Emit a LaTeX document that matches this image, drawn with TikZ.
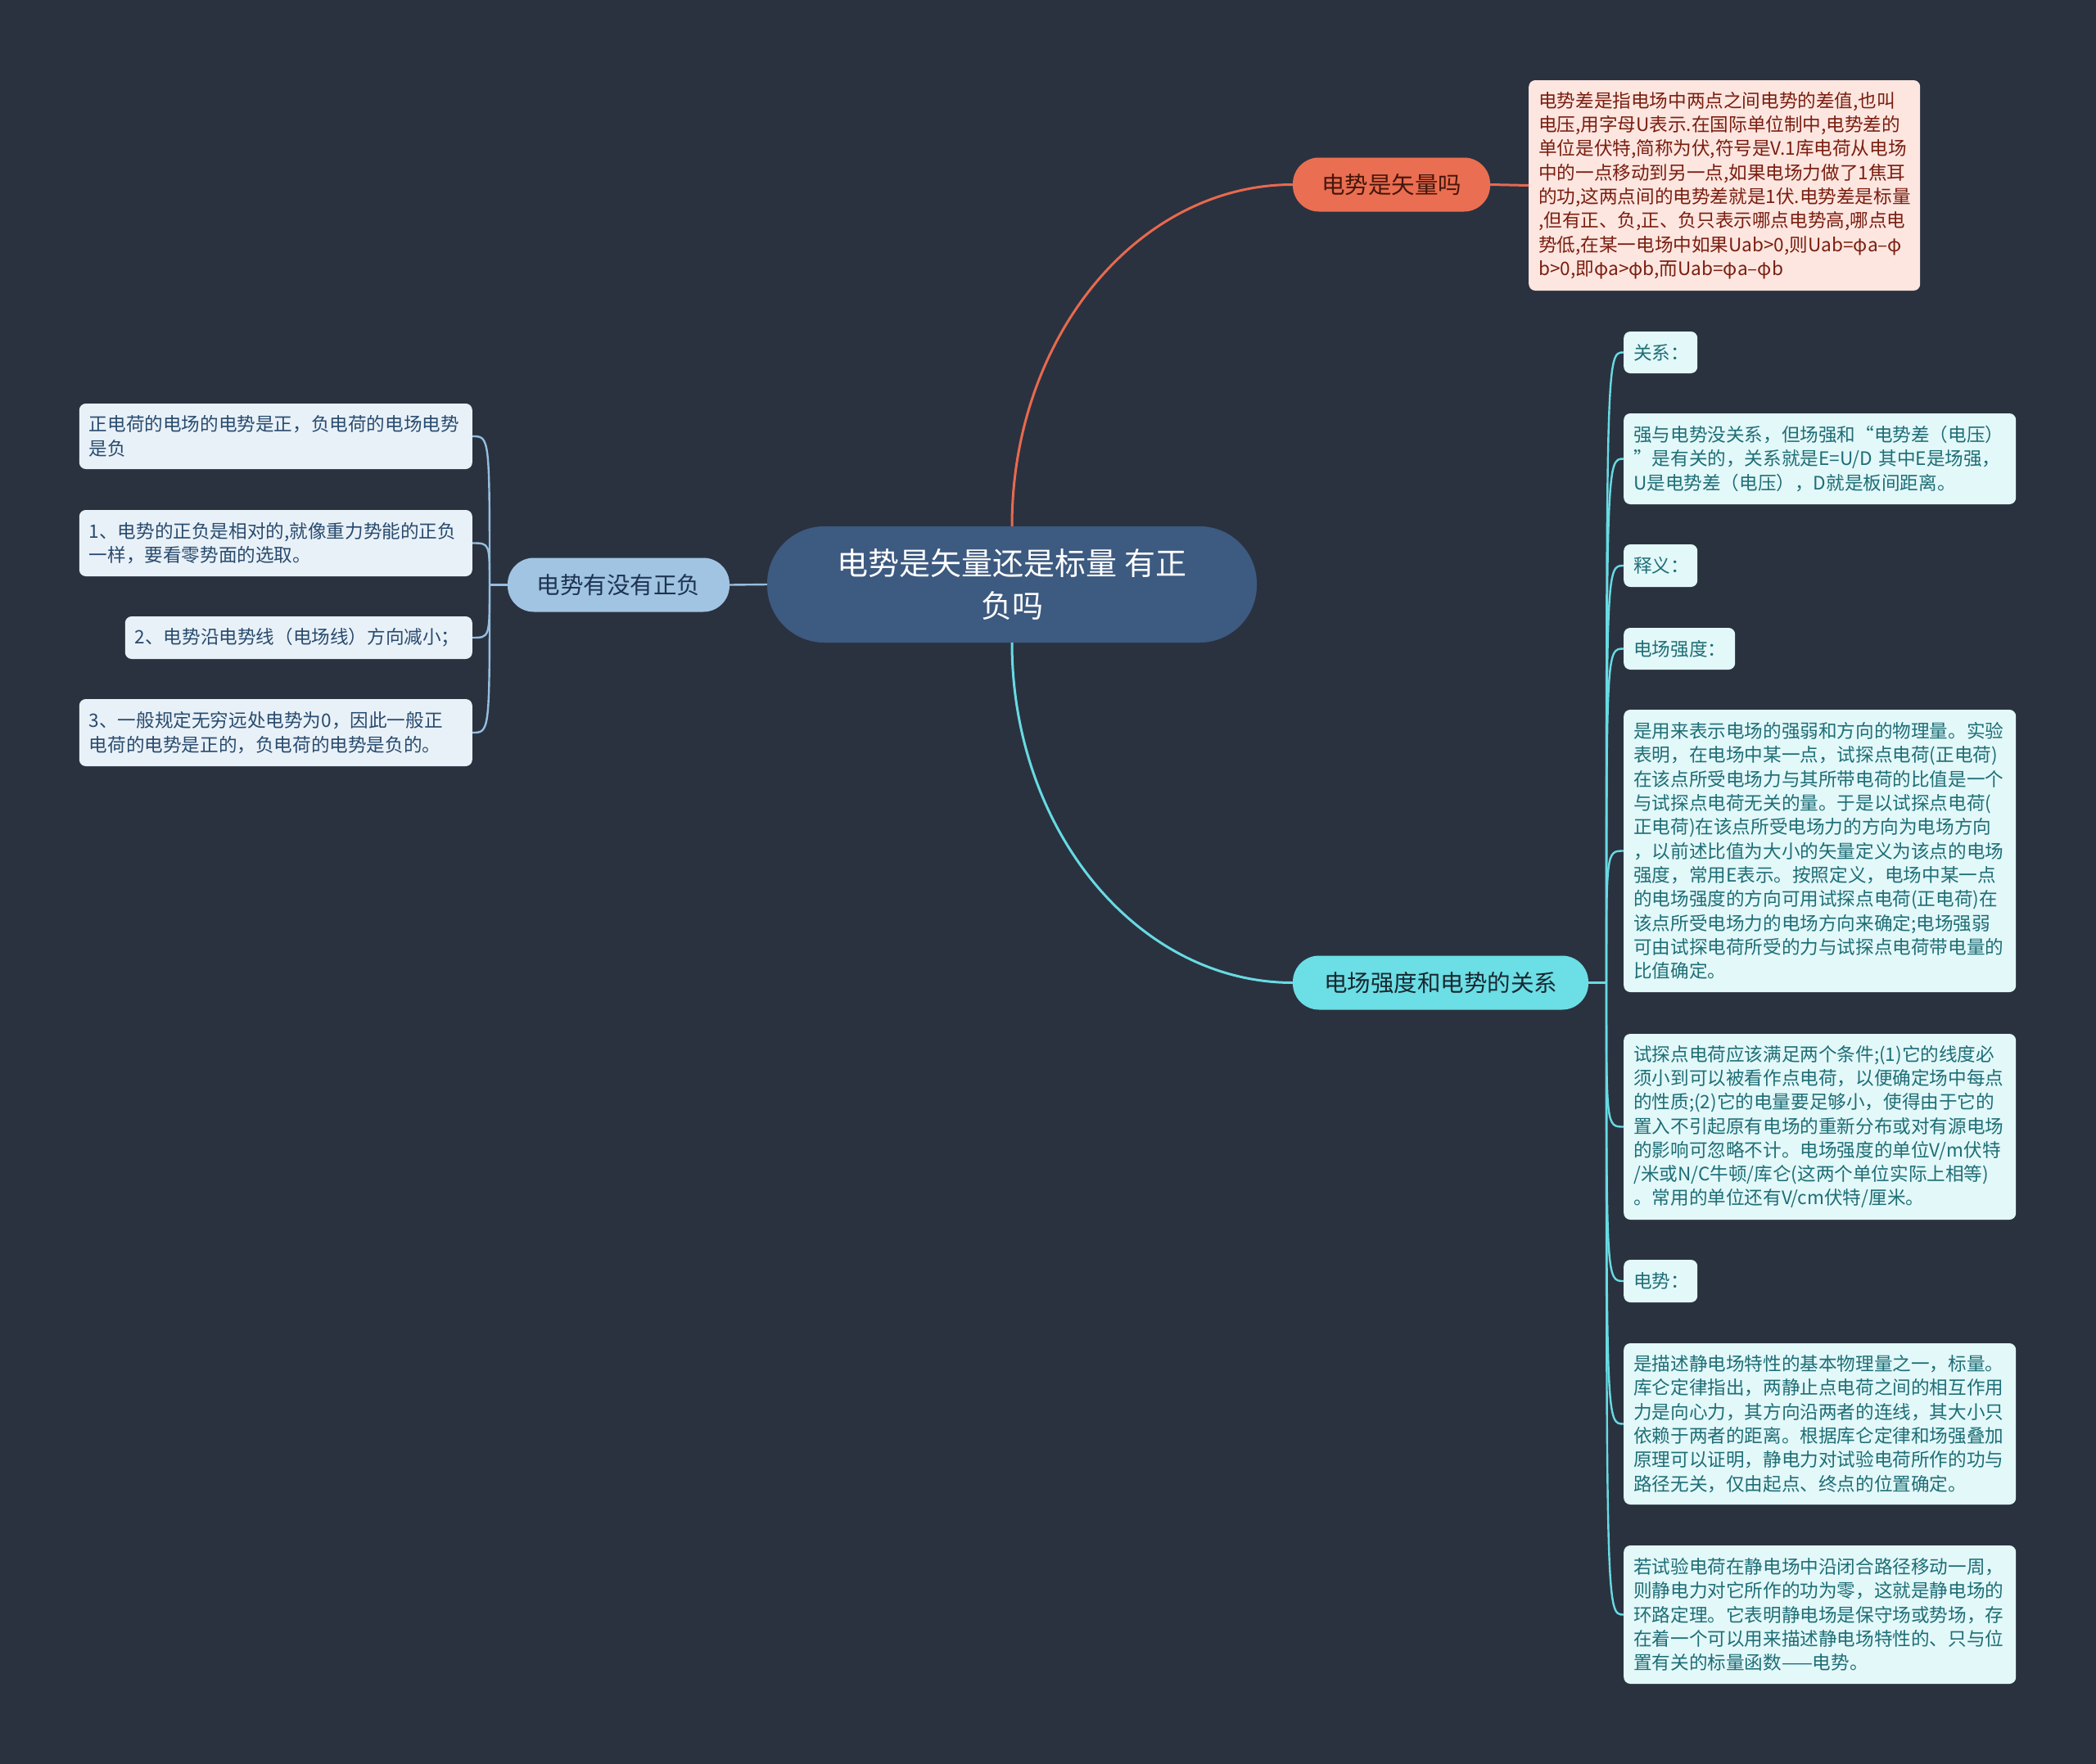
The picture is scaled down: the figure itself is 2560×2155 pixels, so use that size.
\documentclass[tikz,border=0pt]{standalone}
\usepackage{fontspec}
\setmainfont{Noto Sans CJK SC}
\definecolor{bgc}{RGB}{42,50,64}
\definecolor{cenfill}{RGB}{61,90,128}
\definecolor{ofill}{RGB}{234,110,81}
\definecolor{otext}{RGB}{70,22,12}
\definecolor{olfill}{RGB}{253,230,224}
\definecolor{oltext}{RGB}{122,30,16}
\definecolor{oline}{RGB}{232,105,78}
\definecolor{cfill}{RGB}{108,222,229}
\definecolor{ctext}{RGB}{24,40,48}
\definecolor{cline}{RGB}{104,218,226}
\definecolor{rlfill}{RGB}{227,248,249}
\definecolor{rltext}{RGB}{30,110,118}
\definecolor{lfill}{RGB}{160,196,226}
\definecolor{ltext}{RGB}{30,52,82}
\definecolor{lline}{RGB}{150,190,222}
\definecolor{llfill}{RGB}{233,241,248}
\definecolor{lltext}{RGB}{40,75,110}
\tikzset{
  central/.style={fill=cenfill, text=white, rounded corners=70pt, minimum width=598pt, minimum height=142pt, align=center, inner sep=0pt, font=\fontsize{38}{52}\selectfont},
  mainbox/.style={rounded corners=32pt, minimum height=66pt, inner sep=0pt, font=\fontsize{28.5}{34}\selectfont},
  leafbox/.style={rounded corners=8pt, align=left, inner xsep=12pt, inner ysep=0pt, font=\fontsize{22.6}{29.3}\selectfont},
  oleaf/.style={leafbox, fill=olfill, text=oltext, anchor=west},
  rleaf/.style={leafbox, fill=rlfill, text=rltext, anchor=west},
  lleaf/.style={leafbox, fill=llfill, text=lltext, anchor=east},
  oconn/.style={draw=oline, line width=3pt},
  cconn/.style={draw=cline, line width=3pt},
  rconn/.style={draw=cline, line width=2.4pt},
  lconn/.style={draw=lline, line width=2.4pt},
}
\begin{document}
\begin{tikzpicture}[x=1pt,y=-1pt]
\fill[bgc] (0,0) rectangle (2560,2155);
\useasboundingbox (0,0) rectangle (2560,2155);

% central
\node[central] (c) at (1236,714) {电势是矢量还是标量 有正\\负吗};

% main branches
\node[mainbox, fill=ofill, text=otext, minimum width=241pt] (o) at (1699.5,225.5) {电势是矢量吗};
\node[mainbox, fill=cfill, text=ctext, minimum width=361pt] (cy) at (1759.5,1200.5) {电场强度和电势的关系};
\node[mainbox, fill=lfill, text=ltext, minimum width=271pt] (lm) at (755.5,714.5) {电势有没有正负};

% orange leaf
\node[oleaf, text width=454pt, minimum height=257pt] (ol) at (1867,226.5) {电势差是指电场中两点之间电势的差值,也叫\\电压,用字母U表示.在国际单位制中,电势差的\\单位是伏特,简称为伏,符号是V.1库电荷从电场\\中的一点移动到另一点,如果电场力做了1焦耳\\的功,这两点间的电势差就是1伏.电势差是标量\\,但有正、负,正、负只表示哪点电势高,哪点电\\势低,在某一电场中如果Uab>0,则Uab=φa–φ\\b>0,即φa>φb,而Uab=φa–φb};

% right leaves
\node[rleaf, text width=66pt, minimum height=51pt] (r1) at (1983,430.5) {关系：};
\node[rleaf, text width=455pt, minimum height=111pt] (r2) at (1983,560.5) {强与电势没关系，但场强和“电势差（电压）\\”是有关的，关系就是E=U/D 其中E是场强，\\U是电势差（电压），D就是板间距离。};
\node[rleaf, text width=66pt, minimum height=52pt] (r3) at (1983,691) {释义：};
\node[rleaf, text width=112pt, minimum height=51pt] (r4) at (1983,792.5) {电场强度：};
\node[rleaf, text width=455pt, minimum height=345pt] (r5) at (1983,1039.5) {是用来表示电场的强弱和方向的物理量。实验\\表明，在电场中某一点，试探点电荷(正电荷)\\在该点所受电场力与其所带电荷的比值是一个\\与试探点电荷无关的量。于是以试探点电荷(\\正电荷)在该点所受电场力的方向为电场方向\\，以前述比值为大小的矢量定义为该点的电场\\强度，常用E表示。按照定义，电场中某一点\\的电场强度的方向可用试探点电荷(正电荷)在\\该点所受电场力的电场方向来确定;电场强弱\\可由试探电荷所受的力与试探点电荷带电量的\\比值确定。};
\node[rleaf, text width=455pt, minimum height=227pt] (r6) at (1983,1376.5) {试探点电荷应该满足两个条件;(1)它的线度必\\须小到可以被看作点电荷，以便确定场中每点\\的性质;(2)它的电量要足够小，使得由于它的\\置入不引起原有电场的重新分布或对有源电场\\的影响可忽略不计。电场强度的单位V/m伏特\\/米或N/C牛顿/库仑(这两个单位实际上相等)\\。常用的单位还有V/cm伏特/厘米。};
\node[rleaf, text width=66pt, minimum height=52pt] (r7) at (1983,1565) {电势：};
\node[rleaf, text width=455pt, minimum height=197pt] (r8) at (1983,1739.5) {是描述静电场特性的基本物理量之一，标量。\\库仑定律指出，两静止点电荷之间的相互作用\\力是向心力，其方向沿两者的连线，其大小只\\依赖于两者的距离。根据库仑定律和场强叠加\\原理可以证明，静电力对试验电荷所作的功与\\路径无关，仅由起点、终点的位置确定。};
\node[rleaf, text width=455pt, minimum height=169pt] (r9) at (1983,1972.5) {若试验电荷在静电场中沿闭合路径移动一周，\\则静电力对它所作的功为零，这就是静电场的\\环路定理。它表明静电场是保守场或势场，存\\在着一个可以用来描述静电场特性的、只与位\\置有关的标量函数——电势。};

% left leaves
\node[lleaf, text width=456pt, minimum height=80pt] (l1) at (577,533) {正电荷的电场的电势是正，负电荷的电场电势\\是负};
\node[lleaf, text width=456pt, minimum height=81pt] (l2) at (577,663.5) {1、电势的正负是相对的,就像重力势能的正负\\一样，要看零势面的选取。};
\node[lleaf, text width=400pt, minimum height=52pt] (l3) at (577,779) {2、电势沿电势线（电场线）方向减小；};
\node[lleaf, text width=456pt, minimum height=82pt] (l4) at (577,895) {3、一般规定无穷远处电势为0，因此一般正\\电荷的电势是正的，负电荷的电势是负的。};

% connectors
\draw[oconn] (c.north) .. controls +(0,-231) and +(-189,0) .. (o.west);
\draw[oconn] (o.east) -- (ol.west);
\draw[cconn] (c.south) .. controls +(0,229) and +(-189,0) .. (cy.west);
\draw[lconn] (c.west) -- (lm.east);

\coordinate (rs) at (1962,1200.5);
\draw[rconn] (cy.east) -- (rs);
\foreach \n in {r1,r2,r3,r4,r5,r6,r7,r8,r9}
  \draw[rconn] (rs) .. controls (rs |- \n.west) .. (\n.west);

\coordinate (ls) at (598,714.5);
\draw[lconn] (lm.west) -- (ls);
\foreach \n in {l1,l2,l3,l4}
  \draw[lconn] (ls) .. controls (ls |- \n.east) .. (\n.east);
\end{tikzpicture}
\end{document}
